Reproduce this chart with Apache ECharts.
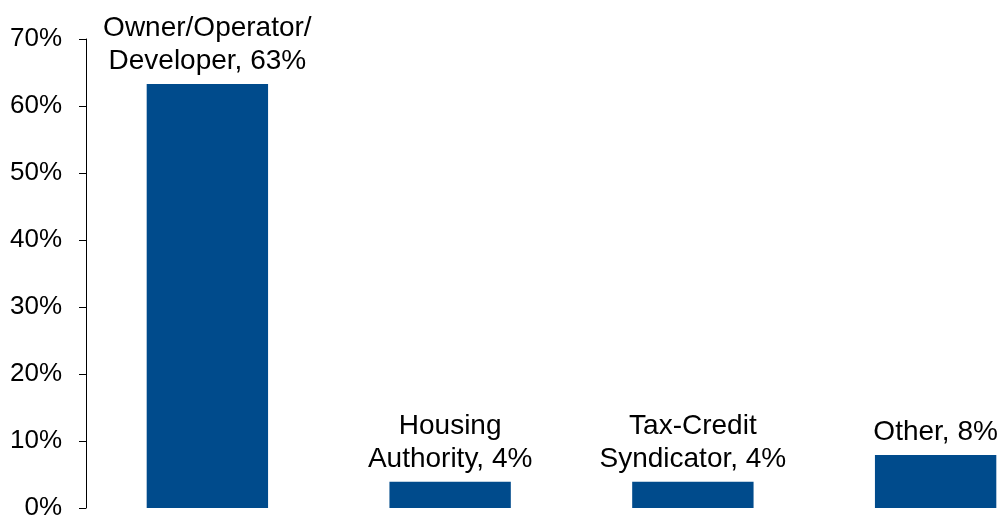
<!DOCTYPE html>
<html>
<head>
<meta charset="utf-8">
<script src="https://cdn.jsdelivr.net/npm/echarts@6/dist/echarts.min.js"></script>
<style>
html,body{margin:0;padding:0;background:#fff;overflow:hidden;width:1000px;height:521px;}
#chart{width:1057px;height:521px;}
</style>
</head>
<body>
<div id="chart"></div>
<script>
const categories = ['Owner/Operator/\nDeveloper', 'Housing\nAuthority', 'Tax-Credit\nSyndicator', 'Other'];
const values = [63.3, 3.9, 3.9, 7.9];
const yTicks = [0, 10, 20, 30, 40, 50, 60, 70];

const chart = echarts.init(document.getElementById('chart'));
chart.setOption({
  animation: false,
  grid: { left: 86, top: 39, bottom: 10, right: 0, containLabel: false },
  xAxis: {
    type: 'category',
    data: categories,
    axisLine: { show: false },
    axisTick: { show: false },
    axisLabel: { show: false }
  },
  yAxis: {
    type: 'value',
    min: yTicks[0],
    max: yTicks[yTicks.length - 1],
    interval: 10,
    splitLine: { show: false },
    axisLine: { show: true, lineStyle: { color: '#000', width: 1 } },
    axisTick: { show: true, length: 7, lineStyle: { color: '#000', width: 1 } },
    axisLabel: {
      formatter: v => v + '%',
      color: '#000',
      fontFamily: 'Liberation Sans, Arial, sans-serif',
      fontSize: 26,
      margin: 24
    }
  },
  series: [{
    type: 'bar',
    data: values,
    barWidth: '50%',
    itemStyle: { color: '#004B8C' },
    label: {
      show: true,
      position: 'top',
      distance: 6,
      color: '#000',
      fontFamily: 'Liberation Sans, Arial, sans-serif',
      fontSize: 28,
      lineHeight: 33,
      align: 'center',
      formatter: p => p.name + ', ' + Math.round(p.value) + '%'
    }
  }]
});
</script>
</body>
</html>
